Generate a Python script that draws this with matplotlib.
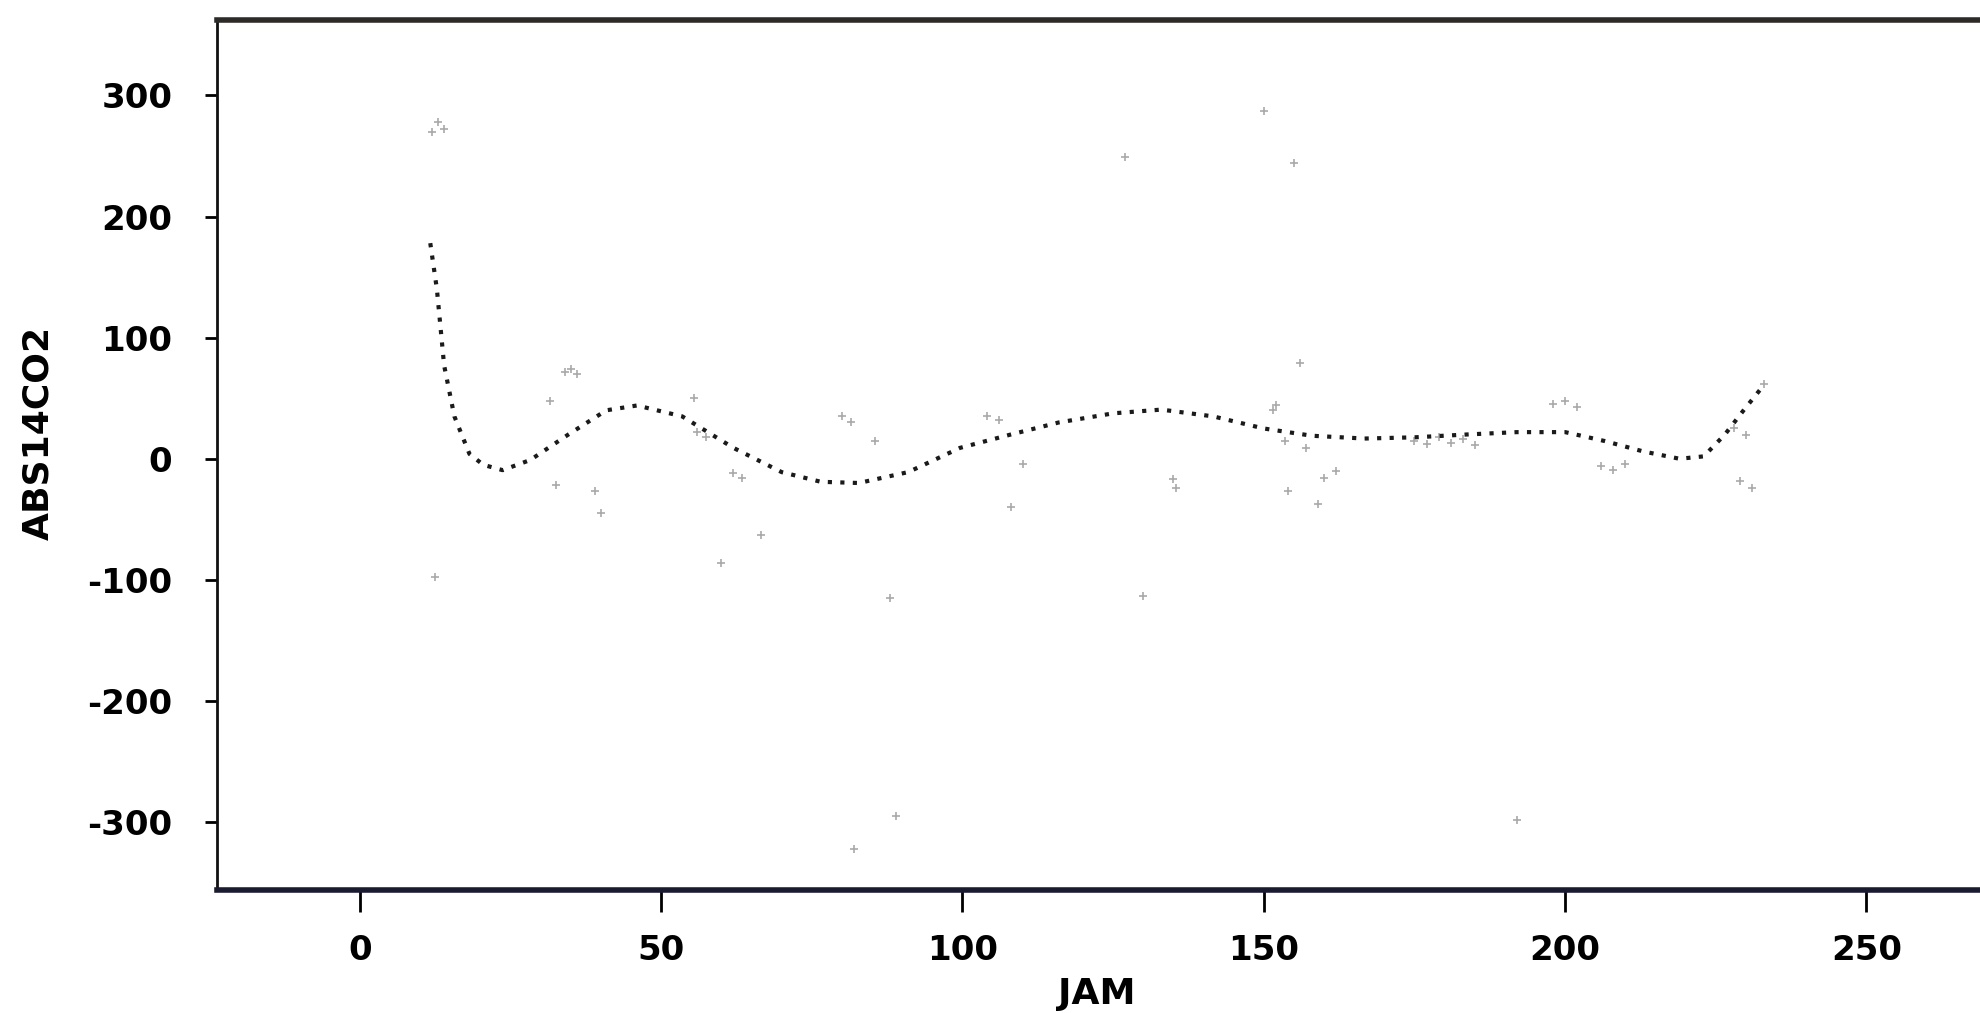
import numpy as np
import matplotlib
matplotlib.use("Agg")
import matplotlib.pyplot as plt

plt.rcParams["axes.unicode_minus"] = False

# observed points (JAM, ABS14CO2)
jam = [12, 13, 14, 12.5, 31.5, 34, 35, 36, 32.5, 39, 40, 55.5, 56, 57.5, 62, 63.5, 60, 66.5,
       80, 81.5, 85.5, 82, 88, 89, 104, 106, 110, 108, 127, 130, 135, 135.5,
       150, 151.5, 155, 152, 153.5, 156, 157, 154, 160, 159, 162,
       175, 177, 179, 181, 183, 185, 192,
       198, 200, 202, 206, 208, 210, 228, 230, 229, 231, 233]
abs14co2 = [270, 278, 272, -98, 48, 72, 74, 70, -22, -27, -45, 50, 22, 18, -12, -16, -86, -63,
            35, 30, 15, -322, -115, -295, 35, 32, -4, -40, 249, -113, -17, -24,
            287, 40, 244, 44, 15, 79, 9, -27, -16, -37, -10,
            15, 12, 18, 13, 16, 11, -298,
            45, 48, 43, -6, -9, -4, 25, 20, -18, -24, 62]

# fitted smooth curve, read at points along its length
fit_x = [11.7, 12.8, 14, 15.7, 18.2, 20.5, 23.7, 28.3, 34.6, 40.9, 46, 53.5, 62, 70, 76.5,
         82.8, 91, 99.6, 108, 116, 125, 133, 141.6, 150, 158, 166.7, 175, 183.5, 192, 200,
         206.6, 213, 219, 223, 226.5, 229.7, 233]
fit_y = [178, 140, 77, 35, 4, -5, -9.4, -1, 20, 40, 44, 35, 9, -11, -19,
         -20, -11, 9, 20, 30, 37.5, 40.6, 35, 25, 19, 16.7, 17.7, 20, 22, 22,
         14.6, 6, 0, 2, 20, 40.6, 61]

xticks = [0, 50, 100, 150, 200, 250]
yticks = [-300, -200, -100, 0, 100, 200, 300]

fig = plt.figure(figsize=(19.81, 10.13), dpi=100)
ax = fig.add_axes([0.1095, 0.1214, 0.8905, 0.8586])

ax.scatter(jam, abs14co2, marker="+", s=30, color="#555555", alpha=0.5, linewidths=1.2)
ax.plot(fit_x, fit_y, linestyle=(0, (1, 2)), color="#1a1a1a", linewidth=3)

ax.set_xlim(-23.7, 269)
ax.set_ylim(-356, 362)
ax.set_xticks(xticks)
ax.set_yticks(yticks)

ax.spines["right"].set_visible(False)
ax.spines["left"].set_linewidth(2)
ax.spines["left"].set_color("#111111")
ax.spines["top"].set_linewidth(4)
ax.spines["top"].set_color("#2e2a2a")
ax.spines["bottom"].set_linewidth(4)
ax.spines["bottom"].set_color("#1a1a30")

ax.tick_params(axis="y", direction="out", length=9, width=2, pad=23, labelsize=24.5)
ax.tick_params(axis="x", direction="out", length=16, width=2, pad=16, labelsize=24.5)
for lab in ax.get_xticklabels() + ax.get_yticklabels():
    lab.set_fontweight("bold")
    lab.set_family("DejaVu Sans")

ax.set_xlabel("JAM", fontsize=26, fontweight="bold", family="DejaVu Sans", va="center")
ax.xaxis.set_label_coords(0.499, -0.1195)
ax.set_ylabel("ABS14CO2", fontsize=26, fontweight="bold", family="DejaVu Sans",
              va="center", ha="center")
ax.yaxis.set_label_coords(-0.1015, 0.526)

fig.savefig("out.png", dpi=100)
